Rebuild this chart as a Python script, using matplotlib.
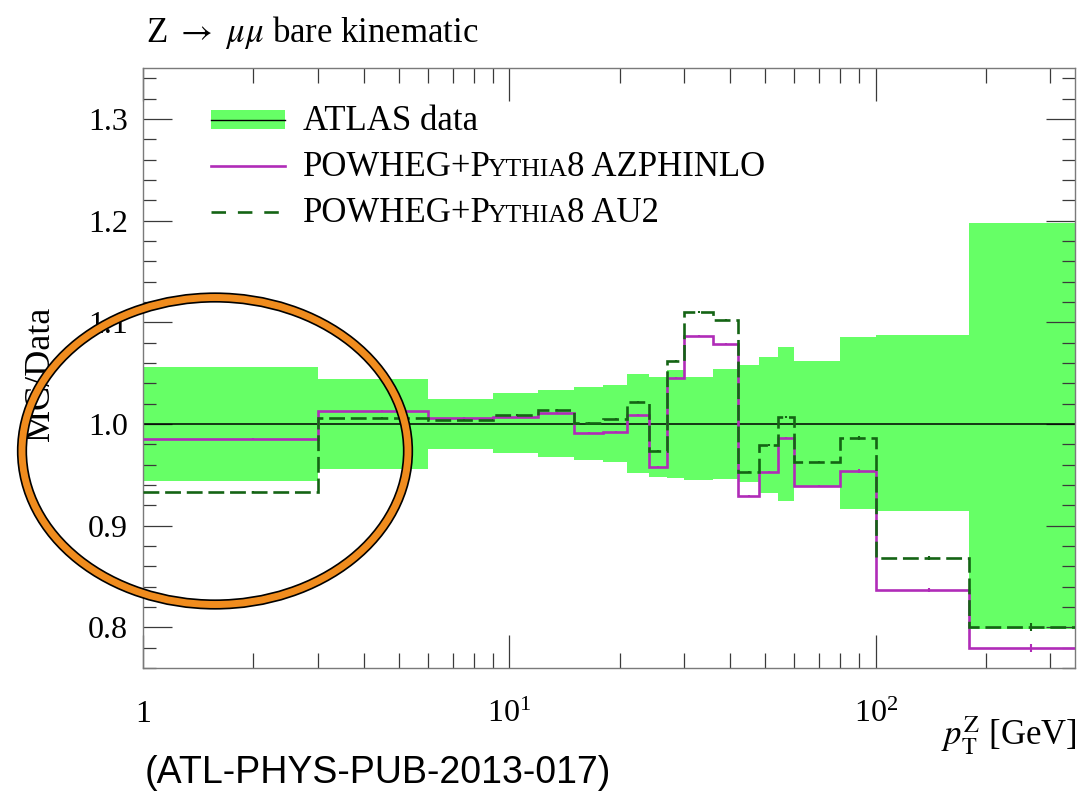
import matplotlib
matplotlib.use("Agg")
import matplotlib.pyplot as plt
from matplotlib.lines import Line2D
from matplotlib.patches import Ellipse, Rectangle
from matplotlib.ticker import (FixedLocator, FormatStrFormatter, LogLocator,
                               MultipleLocator, NullFormatter)
import numpy as np

SERIF = "Liberation Serif"
plt.rcParams["font.family"] = [SERIF, "DejaVu Serif"]
plt.rcParams["mathtext.fontset"] = "custom"
plt.rcParams["mathtext.rm"] = SERIF
plt.rcParams["mathtext.it"] = SERIF + ":italic"
plt.rcParams["mathtext.bf"] = SERIF + ":bold"

# pT bin edges [GeV]; first bin starts at the axis edge (1 GeV)
pt_edges = [1, 3, 6, 9, 12, 15, 18, 21, 24, 27, 30, 36, 42, 48, 54, 60, 80, 100, 180, 350]

# ATLAS data uncertainty band, as a ratio to the data
data_hi = [1.056, 1.044, 1.025, 1.030, 1.033, 1.036, 1.038, 1.049, 1.046, 1.053,
           1.046, 1.054, 1.058, 1.066, 1.076, 1.062, 1.085, 1.087, 1.198]
data_lo = [0.944, 0.956, 0.975, 0.971, 0.967, 0.965, 0.963, 0.952, 0.948, 0.947,
           0.945, 0.946, 0.943, 0.932, 0.924, 0.938, 0.916, 0.914, 0.798]

# MC / data
azphinlo = [0.985, 1.013, 1.006, 1.007, 1.011, 0.991, 0.992, 1.009, 0.958, 1.045,
            1.086, 1.079, 0.929, 0.953, 0.986, 0.939, 0.954, 0.837, 0.780]
au2 = [0.933, 1.006, 1.004, 1.009, 1.014, 1.001, 1.005, 1.022, 0.973, 1.062,
       1.110, 1.102, 0.953, 0.979, 1.007, 0.963, 0.986, 0.868, 0.800]
mc_stat = [0.001, 0.001, 0.001, 0.001, 0.001, 0.001, 0.001, 0.001, 0.001, 0.001,
           0.001, 0.001, 0.001, 0.001, 0.001, 0.001, 0.002, 0.002, 0.004]

x_ticks = [1, 10, 100]
x_tick_labels = ["1", r"$10^{1}$", r"$10^{2}$"]

# legend entries: (text, size factor, extra gap in px) pieces;
# the small caps of Pythia are set by hand
legend_rows = [
    [("ATLAS data", 1.0, 0)],
    [("POWHEG+P", 1.0, 0), ("YTHIA", 0.74, -5), ("8 AZPHINLO", 1.0, -2)],
    [("POWHEG+P", 1.0, 0), ("YTHIA", 0.74, -5), ("8 AU2", 1.0, -2)],
]

W, H = 1079, 791
BAND = "#66ff66"
MAGENTA = "#b02cb8"
DKGREEN = "#146414"
ORANGE = "#f08c1e"
FS = 25


def fx(px):
    return px / W


def fy(py):
    return 1 - py / H


fig = plt.figure(figsize=(W / 100, H / 100), dpi=100)
ax = fig.add_axes([fx(143), fy(668), (1075 - 143) / W, 600 / H])
ax.set_xscale("log")

edges = np.array(pt_edges, dtype=float)
lo = np.array(data_lo)
hi = np.array(data_hi)
ax.bar(edges[:-1], hi - lo, width=np.diff(edges), bottom=lo, align="edge",
       color=BAND, linewidth=0, zorder=1)
ax.axhline(1.0, color="black", lw=1.1, zorder=2)

centres = 0.5 * (edges[:-1] + edges[1:])
ax.stairs(azphinlo, edges, baseline=None, color=MAGENTA, lw=1.9, zorder=3)
ax.errorbar(centres, azphinlo, yerr=mc_stat, fmt="none", ecolor=MAGENTA,
            elinewidth=1.5, zorder=3)
ax.stairs(au2, edges, baseline=None, color=DKGREEN, lw=1.9,
          linestyle=(0, (6, 2.2)), zorder=4)
ax.errorbar(centres, au2, yerr=mc_stat, fmt="none", ecolor=DKGREEN,
            elinewidth=1.5, zorder=4)

ax.set_xlim(1, 350)
ax.set_ylim(0.76, 1.35)
ax.xaxis.set_major_locator(FixedLocator(x_ticks))
ax.xaxis.set_minor_locator(LogLocator(base=10, subs=np.arange(2, 10), numticks=50))
ax.xaxis.set_major_formatter(NullFormatter())
ax.xaxis.set_minor_formatter(NullFormatter())
ax.yaxis.set_major_locator(MultipleLocator(0.1))
ax.yaxis.set_minor_locator(MultipleLocator(0.02))
ax.yaxis.set_major_formatter(FormatStrFormatter("%.1f"))

ax.tick_params(which="both", direction="in", top=True, right=True,
               color="#3a3a3a", width=0.9)
ax.tick_params(axis="x", which="major", length=24)
ax.tick_params(axis="x", which="minor", length=11)
ax.tick_params(axis="y", which="major", length=21, pad=11, labelsize=23)
ax.tick_params(axis="y", which="minor", length=9.5)
for sp in ax.spines.values():
    sp.set_color("#7a7a7a")
    sp.set_linewidth(1.0)

# x tick labels on a common baseline so the superscripts stand above it
xtrans = ax.get_xaxis_transform()
for v, lab in zip(x_ticks, x_tick_labels):
    ax.text(v, -0.09, lab, transform=xtrans, ha="center", va="baseline",
            fontsize=23)

fig.text(fx(146), fy(42), r"Z $\rightarrow$ $\mu\mu$ bare kinematic", fontsize=FS,
         va="baseline", ha="left", math_fontfamily="stix")
fig.text(fx(40), fy(374), "MC/Data", rotation=90, ha="center", va="center",
         fontsize=FS + 1)
fig.text(fx(1077), fy(745), r"$p_{\mathrm{T}}^{\mathrm{Z}}$ [GeV]", ha="right",
         va="baseline", fontsize=FS, math_fontfamily="stix")
fig.text(fx(145), fy(783), "(ATL-PHYS-PUB-2013-017)", family="Liberation Sans",
         fontsize=27, va="baseline", ha="left")

# legend handles
fig.add_artist(Rectangle((fx(211), fy(129)), fx(285) - fx(211), fy(110) - fy(129),
                         transform=fig.transFigure, facecolor=BAND, lw=0))
fig.add_artist(Line2D([fx(211), fx(285)], [fy(120)] * 2, transform=fig.transFigure,
                      color="black", lw=1.0))
fig.add_artist(Line2D([fx(211), fx(285)], [fy(166)] * 2, transform=fig.transFigure,
                      color=MAGENTA, lw=1.9))
fig.add_artist(Line2D([fx(211), fx(285)], [fy(212)] * 2, transform=fig.transFigure,
                      color=DKGREEN, lw=1.9, linestyle=(0, (5.5, 4.5))))

renderer = fig.canvas.get_renderer()
for row, base in zip(legend_rows, [130, 176, 222]):
    x_px = 303
    for text, scale, gap in row:
        x_px += gap
        t = fig.text(fx(x_px), fy(base), text, fontsize=FS * scale,
                     va="baseline", ha="left")
        x_px = t.get_window_extent(renderer).x1 + 1.5

# orange ring with a thin black rim
for lw, col in [(7.4, "black"), (5.0, ORANGE)]:
    fig.add_artist(Ellipse((fx(215), fy(451)), width=386 / W, height=307 / H,
                           transform=fig.transFigure, fill=False, lw=lw,
                           edgecolor=col, zorder=20))

fig.savefig("out.png", dpi=100)
